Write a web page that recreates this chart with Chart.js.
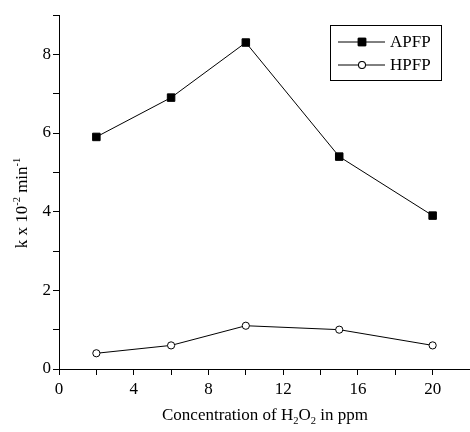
<!DOCTYPE html>
<html>
<head>
<meta charset="utf-8">
<script src="https://cdn.jsdelivr.net/npm/chart.js@4/dist/chart.umd.min.js"></script>
<style>
  html, body { margin: 0; padding: 0; background: #fff; }
  #wrap { width: 470px; height: 432px; }
</style>
</head>
<body>
<div id="wrap"><canvas id="rateChart" width="470" height="432"></canvas></div>
<script>
// data
const concentration = [2, 6, 10, 15, 20];
const apfp = [5.9, 6.9, 8.3, 5.4, 3.9];
const hpfp = [0.4, 0.6, 1.1, 1.0, 0.6];
const xTickLabels = [0, 4, 8, 12, 16, 20];
const yTickLabels = [0, 2, 4, 6, 8];

const FONT = "Liberation Serif, serif";
Chart.defaults.font.family = FONT;
Chart.defaults.font.size = 17;
Chart.defaults.color = "#000";

// draws text made of normal / sup / sub pieces, centered on (cx, cy baseline)
function richText(ctx, parts, cx, cy, size) {
    let total = 0;
    parts.forEach(p => {
        ctx.font = (p.s ? size * 0.62 : size) + "px " + FONT;
        p.w = ctx.measureText(p.t).width;
        total += p.w;
    });
    let x = cx - total / 2;
    parts.forEach(p => {
        ctx.font = (p.s ? size * 0.62 : size) + "px " + FONT;
        let dy = p.s === "sup" ? -size * 0.42 : p.s === "sub" ? size * 0.22 : 0;
        ctx.fillText(p.t, x, cy + dy);
        x += p.w;
    });
}

const extras = {
    id: "extras",
    afterDraw(chart) {
        const ctx = chart.ctx;
        ctx.save();
        ctx.fillStyle = "#000";
        ctx.textAlign = "left";
        ctx.textBaseline = "alphabetic";

        // x title
        richText(ctx, [
            { t: "Concentration of H" }, { t: "2", s: "sub" },
            { t: "O" }, { t: "2", s: "sub" }, { t: " in ppm" }
        ], 265, 420, 17);

        // y title
        ctx.save();
        ctx.translate(27, 203);
        ctx.rotate(-Math.PI / 2);
        richText(ctx, [
            { t: "k x 10" }, { t: "-2", s: "sup" },
            { t: " min" }, { t: "-1", s: "sup" }
        ], 0, 0, 17);
        ctx.restore();

        // legend box
        const bx = 330, by = 25, bw = 111, bh = 55;
        ctx.strokeStyle = "#000";
        ctx.lineWidth = 1;
        ctx.strokeRect(bx + 0.5, by + 0.5, bw, bh);
        chart.data.datasets.forEach((ds, i) => {
            const y = by + 17 + i * 23;
            ctx.beginPath();
            ctx.moveTo(bx + 8, y);
            ctx.lineTo(bx + 55, y);
            ctx.strokeStyle = ds.borderColor;
            ctx.stroke();
            Chart.helpers.drawPoint(ctx, {
                pointStyle: ds.pointStyle,
                radius: ds.pointRadius,
                borderWidth: 1
            }, bx + 32, y);
            ctx.fillStyle = ds.pointBackgroundColor;
            ctx.strokeStyle = "#000";
            ctx.fill();
            ctx.stroke();
            ctx.fillStyle = "#000";
            ctx.font = "17px " + FONT;
            ctx.textBaseline = "middle";
            ctx.fillText(ds.label, bx + 60, y + 1);
        });
        ctx.restore();
    }
};

new Chart(document.getElementById("rateChart"), {
    type: "line",
    data: {
        datasets: [
            {
                label: "APFP",
                data: concentration.map((x, i) => ({ x: x, y: apfp[i] })),
                borderColor: "#000",
                borderWidth: 1,
                pointStyle: "rect",
                pointRadius: 5.3,
                pointBackgroundColor: "#000",
                pointBorderColor: "#000",
                pointBorderWidth: 1
            },
            {
                label: "HPFP",
                data: concentration.map((x, i) => ({ x: x, y: hpfp[i] })),
                borderColor: "#000",
                borderWidth: 1,
                pointStyle: "circle",
                pointRadius: 3.6,
                pointBackgroundColor: "#fff",
                pointBorderColor: "#000",
                pointBorderWidth: 1
            }
        ]
    },
    options: {
        responsive: false,
        animation: false,
        layout: { autoPadding: false, padding: { top: 15, right: 0, left: 0, bottom: 0 } },
        plugins: { legend: { display: false }, tooltip: { enabled: false } },
        scales: {
            x: {
                type: "linear",
                min: 0,
                max: 22,
                afterBuildTicks: s => { s.ticks = s.ticks.filter(t => t.value <= 20); },
                afterFit: s => { s.height = 63; s.paddingRight = 0; s.paddingLeft = 0; },
                grid: { drawOnChartArea: false, drawTicks: true, tickLength: 6, color: "#000" },
                border: { color: "#000", width: 1 },
                ticks: {
                    stepSize: 2,
                    autoSkip: false,
                    maxRotation: 0,
                    padding: 4,
                    color: "#000",
                    font: { family: FONT, size: 17 },
                    callback: v => xTickLabels.includes(v) ? v : ""
                }
            },
            y: {
                min: 0,
                max: 9,
                afterFit: s => { s.width = 59; s.paddingTop = 0; s.paddingBottom = 0; },
                grid: { drawOnChartArea: false, drawTicks: true, tickLength: 6, color: "#000" },
                border: { color: "#000", width: 1 },
                ticks: {
                    stepSize: 1,
                    padding: 2,
                    color: "#000",
                    font: { family: FONT, size: 17 },
                    callback: v => yTickLabels.includes(v) ? v : ""
                }
            }
        }
    },
    plugins: [extras]
});
</script>
</body>
</html>
